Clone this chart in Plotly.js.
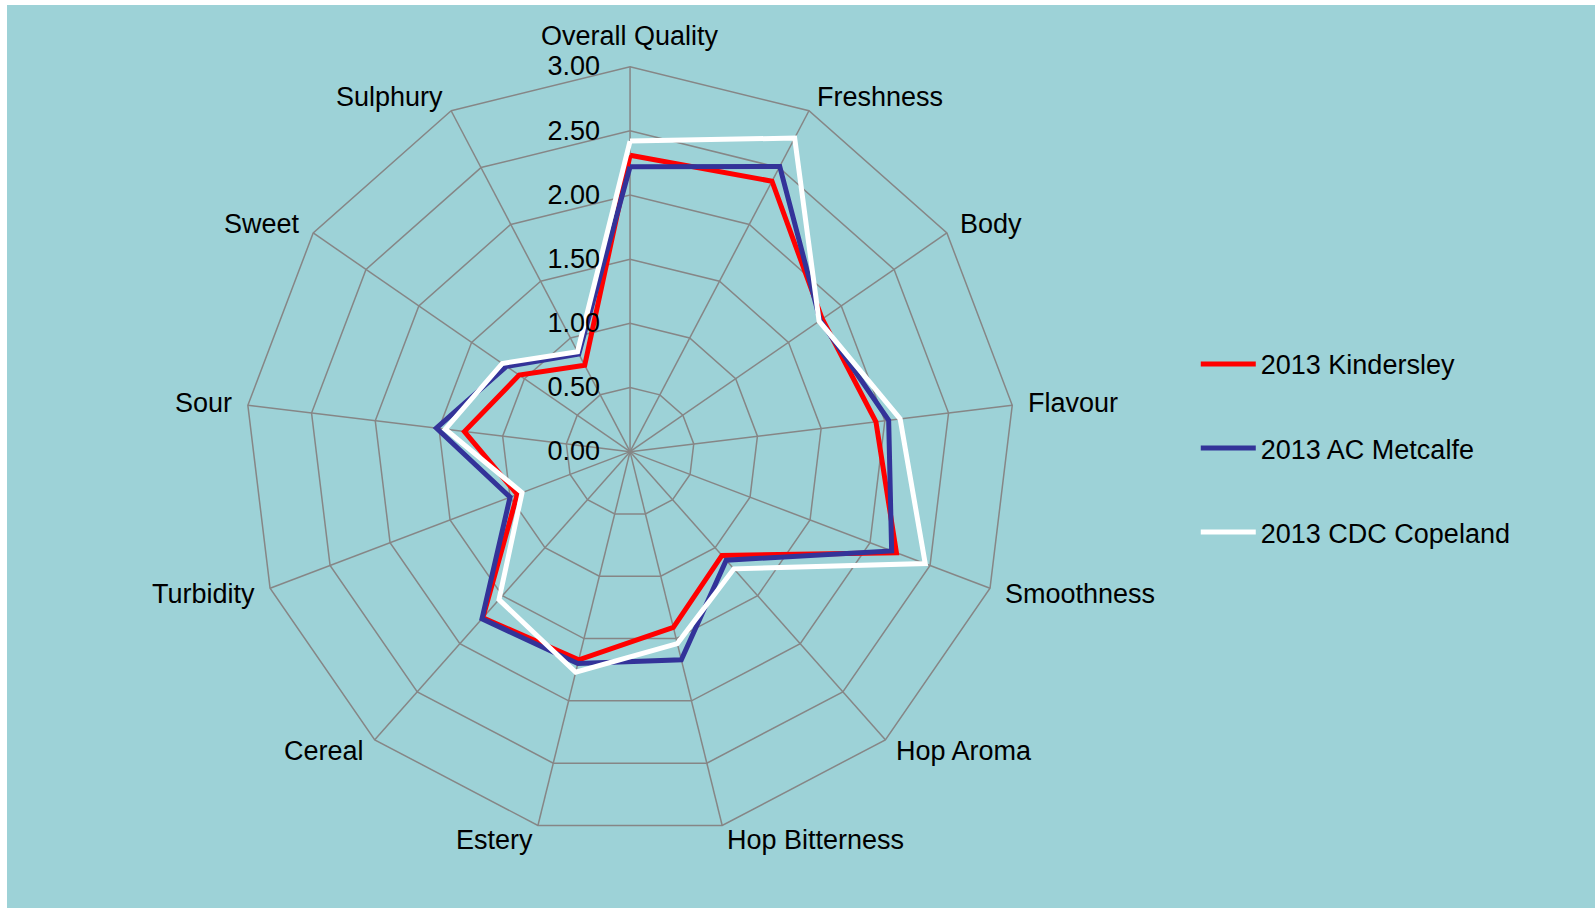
<!DOCTYPE html>
<html>
<head>
<meta charset="utf-8">
<script src="https://cdn.plot.ly/plotly-3.0.1.min.js"></script>
<style>
html, body { margin: 0; padding: 0; background: #ffffff; width: 1595px; height: 909px; overflow: hidden; }
#chart { position: absolute; left: 7px; top: 5px; width: 1588px; height: 903px; }
</style>
</head>
<body>
<div id="chart"></div>
<script>
const categories = ["Overall Quality", "Freshness", "Body", "Flavour", "Smoothness", "Hop Aroma",
  "Hop Bitterness", "Estery", "Cereal", "Turbidity", "Sour", "Sweet", "Sulphury"];
const kindersley = [2.31, 2.38, 1.82, 1.93, 2.22, 1.08, 1.41, 1.67, 1.73, 0.94, 1.30, 1.05, 0.76];
const metcalfe   = [2.22, 2.51, 1.80, 2.03, 2.18, 1.13, 1.67, 1.70, 1.74, 1.00, 1.52, 1.17, 0.86];
const copeland   = [2.42, 2.76, 1.79, 2.12, 2.46, 1.22, 1.54, 1.77, 1.54, 0.90, 1.45, 1.21, 0.88];
const seriesNames = ["2013 Kindersley", "2013 AC Metcalfe", "2013 CDC Copeland"];
const seriesColors = ["#ff0000", "#333399", "#ffffff"];
const radialTicks = [0, 0.5, 1, 1.5, 2, 2.5, 3];

const font = "Liberation Sans, Arial, sans-serif";
const FS = 27;
const W = 1588, H = 903;
const domX = [0.1499, 0.6348], domY = [0.0790, 0.9317];

const closeLoop = a => a.concat([a[0]]);
const thetaClosed = closeLoop(categories);

const traces = [kindersley, metcalfe, copeland].map((vals, i) => ({
  type: "scatterpolar",
  mode: "lines",
  r: closeLoop(vals),
  theta: thetaClosed,
  name: seriesNames[i],
  legendgroup: "g" + i,
  line: { color: seriesColors[i], width: 5 },
  hoverinfo: "skip"
}));

// Category labels placed just outside the outer polygon vertices (spreadsheet-style placement)
const cxp = (domX[0] + domX[1]) / 2, cyp = (domY[0] + domY[1]) / 2;
const Rpx = Math.min((domX[1] - domX[0]) * W, (domY[1] - domY[0]) * H) / 2;
const gap = 15;
const labelAnnotations = categories.map((c, i) => {
  const th = i * 2 * Math.PI / categories.length;
  const s = Math.sin(th), co = Math.cos(th);
  const xanchor = Math.abs(s) < 0.1 ? "center" : (s > 0 ? "left" : "right");
  const yanchor = xanchor === "center" ? (co > 0 ? "bottom" : "top") : "middle";
  return {
    xref: "paper", yref: "paper",
    x: cxp + Rpx * s / W, y: cyp + Rpx * co / H,
    xanchor: xanchor, yanchor: yanchor,
    xshift: gap * s, yshift: gap * co,
    text: c, showarrow: false, borderpad: 0,
    font: { family: font, size: FS, color: "#000000" }
  };
});

const layout = {
  width: W,
  height: H,
  margin: { l: 0, r: 0, t: 0, b: 0 },
  paper_bgcolor: "#9dd2d7",
  plot_bgcolor: "#9dd2d7",
  font: { family: font, size: FS, color: "#000000" },
  showlegend: true,
  legend: {
    x: 0.7486, xanchor: "left",
    y: 0.509, yanchor: "middle",
    bgcolor: "rgba(0,0,0,0)",
    font: { family: font, size: FS, color: "#000000" },
    tracegroupgap: 46,
    itemwidth: 55
  },
  annotations: labelAnnotations,
  polar: {
    domain: { x: domX, y: domY },
    bgcolor: "rgba(0,0,0,0)",
    gridshape: "linear",
    angularaxis: {
      type: "category",
      categoryarray: categories,
      rotation: 90,
      direction: "clockwise",
      showline: true,
      linecolor: "#868686",
      linewidth: 1.5,
      gridcolor: "#868686",
      gridwidth: 1.5,
      ticks: "",
      showticklabels: false
    },
    radialaxis: {
      range: [0, 3],
      tickvals: radialTicks,
      tickformat: ".2f",
      angle: 90,
      tickangle: 90,
      side: "counterclockwise",
      showline: false,
      ticks: "outside",
      ticklen: 20,
      tickcolor: "rgba(0,0,0,0)",
      gridcolor: "#868686",
      gridwidth: 1.5,
      tickfont: { family: font, size: FS, color: "#000000" }
    }
  }
};

Plotly.newPlot("chart", traces, layout, { displayModeBar: false, staticPlot: true });
</script>
</body>
</html>
